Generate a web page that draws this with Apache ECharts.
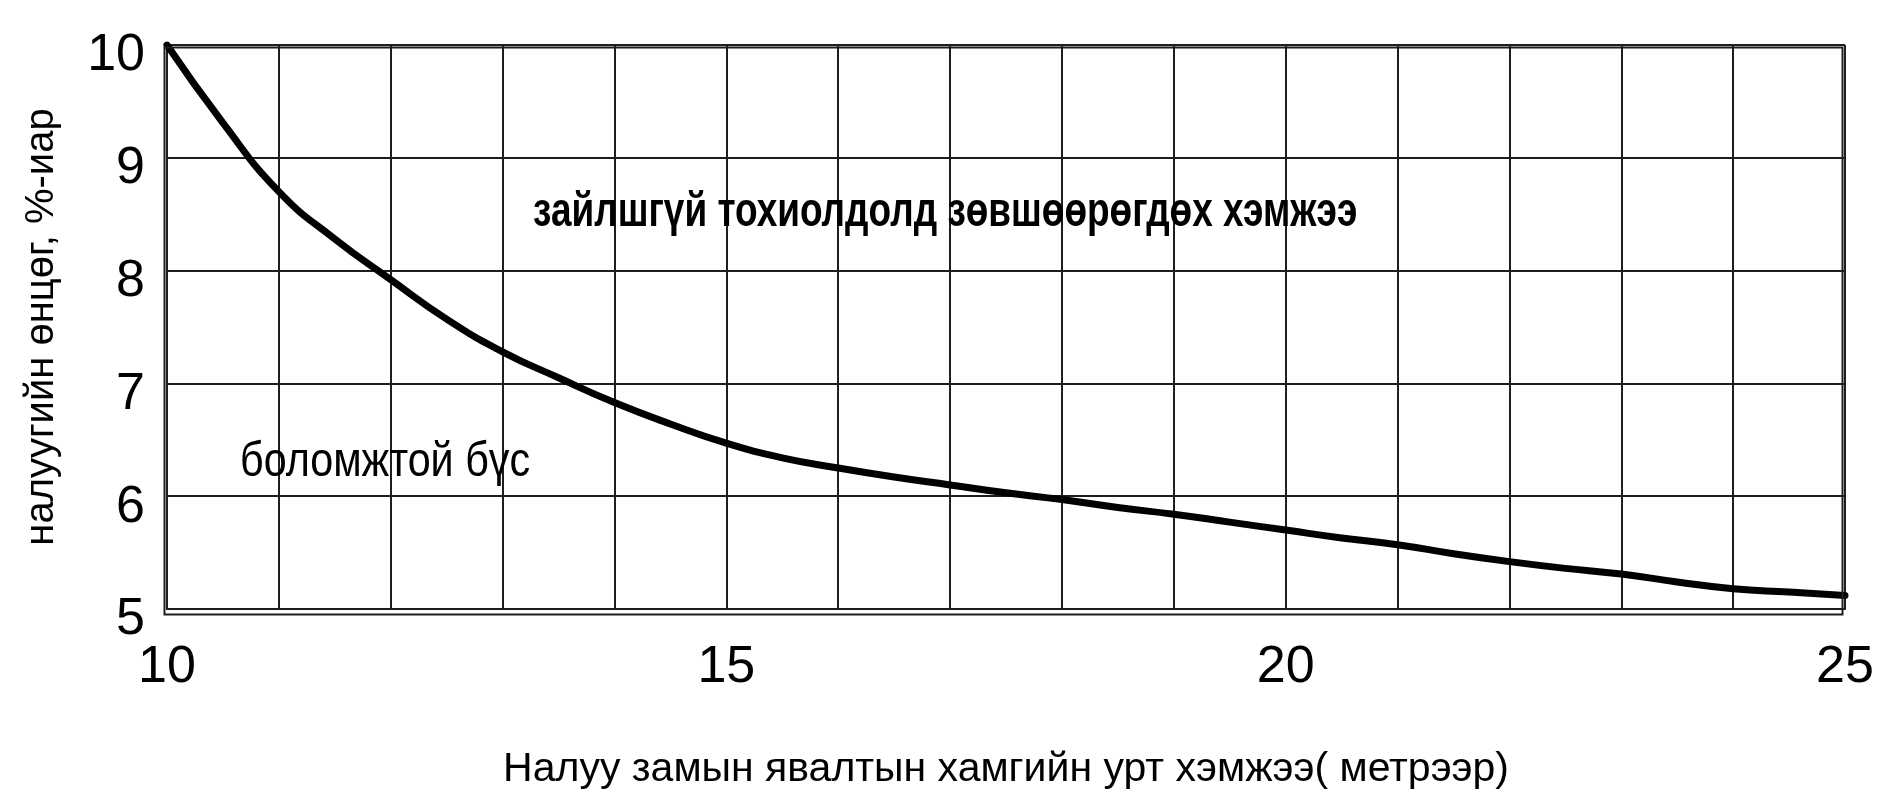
<!DOCTYPE html>
<html>
<head>
<meta charset="utf-8">
<script src="https://cdn.jsdelivr.net/npm/echarts@6/dist/echarts.min.js"></script>
<style>
html,body{margin:0;padding:0;background:#fff;}
#chart{width:1884px;height:795px;}
</style>
</head>
<body>
<div id="chart"></div>
<script>
var FONT = "'Liberation Sans', Arial, sans-serif";

var lengths = [10, 10.5, 11, 11.5, 12, 12.5, 13, 13.5, 14, 14.5, 15, 15.5, 16, 16.5, 17, 17.5, 18, 18.5, 19, 19.5, 20, 20.5, 21, 21.5, 22, 22.5, 23, 23.5, 24, 24.5, 25];
var slopes = [10.0, 9.31, 8.70, 8.28, 7.92, 7.57, 7.28, 7.05, 6.83, 6.64, 6.47, 6.34, 6.25, 6.17, 6.10, 6.03, 5.97, 5.90, 5.84, 5.77, 5.70, 5.63, 5.57, 5.49, 5.42, 5.36, 5.31, 5.24, 5.18, 5.15, 5.12];
var xTickLabels = [10, 15, 20, 25];
var yTickLabels = [5, 6, 7, 8, 9, 10];

var xName = 'Налуу замын явалтын хамгийн урт хэмжээ( метрээр)';
var yName = 'налуугийн өнцөг, %-иар';
var upperText = 'зайлшгүй тохиолдолд зөвшөөрөгдөх хэмжээ';
var lowerText = 'боломжтой бүс';

var chart = echarts.init(document.getElementById('chart'));
var lineStyleGrid = { color: '#1e1e1e', width: 2 };

chart.setOption({
  animation: false,
  backgroundColor: '#ffffff',
  grid: { left: 167, right: 39, top: 45, bottom: 183, show: false },
  xAxis: {
    type: 'value', min: 10, max: 25, interval: 1,
    axisLine: { show: true, lineStyle: lineStyleGrid },
    axisTick: { show: false },
    splitLine: { show: true, lineStyle: lineStyleGrid },
    axisLabel: {
      margin: 33, fontFamily: FONT, fontSize: 52, color: '#000',
      formatter: function (v) { return xTickLabels.indexOf(v) >= 0 ? String(v) : ''; }
    },
    name: xName, nameLocation: 'middle', nameGap: 140,
    nameTextStyle: { fontFamily: FONT, fontSize: 41, color: '#000' }
  },
  yAxis: {
    type: 'value', min: 5, max: 10, interval: 1,
    axisLine: { show: true, lineStyle: lineStyleGrid },
    axisTick: { show: false },
    splitLine: { show: true, lineStyle: lineStyleGrid },
    axisLabel: {
      margin: 22, fontFamily: FONT, fontSize: 52, color: '#000',
      verticalAlign: 'top', lineHeight: 22,
      formatter: function (v) { return yTickLabels.indexOf(v) >= 0 ? String(v) : ''; }
    },
    name: yName, nameLocation: 'middle', nameGap: 105, nameRotate: 90,
    nameTextStyle: { fontFamily: FONT, fontSize: 40, color: '#000' }
  },
  graphic: [
    { type: 'rect', right: 39, top: 45, shape: { width: 1678, height: 567 }, style: { fill: 'none', stroke: '#1e1e1e', lineWidth: 2 }, silent: true, z: 10 },
    { type: 'text', x: 533, y: 189, scaleX: 0.77, style: { text: upperText, font: 'bold 48px ' + FONT, fill: '#000', verticalAlign: 'top' }, z: 1 },
    { type: 'text', x: 240, y: 439, scaleX: 0.86, style: { text: lowerText, font: '48px ' + FONT, fill: '#000', verticalAlign: 'top' }, z: 1 }
  ],
  series: [{
    type: 'line', data: lengths.map(function (x, i) { return [x, slopes[i]]; }),
    smooth: 0.5, showSymbol: false, symbol: 'none',
    lineStyle: { color: '#000', width: 7, cap: 'round' }, z: 5
  }]
});
</script>
</body>
</html>
